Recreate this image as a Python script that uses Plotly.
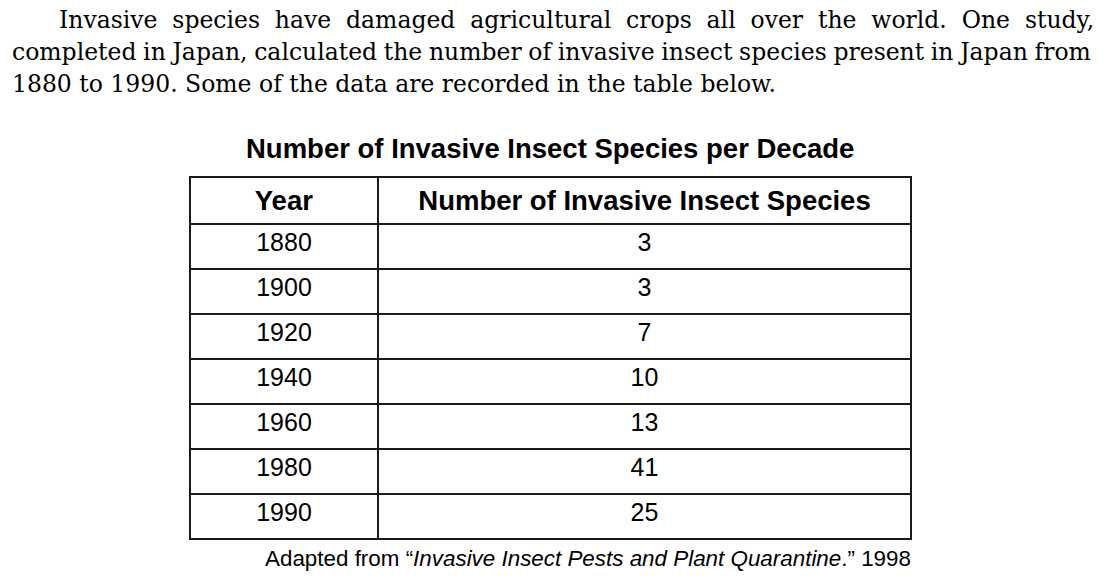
import plotly.graph_objects as go

years = ["1880", "1900", "1920", "1940", "1960", "1980", "1990"]
species = [3, 3, 7, 10, 13, 41, 25]
col_headers = ["Year", "Number of Invasive Insect Species"]
title = "Number of Invasive Insect Species per Decade"
para_lines = [
    "Invasive species have damaged agricultural crops all over the world. One study,",
    "completed in Japan, calculated the number of invasive insect species present in Japan from",
    "1880 to 1990. Some of the data are recorded in the table below.",
]
caption = "Adapted from \u201c<i>Invasive Insect Pests and Plant Quarantine</i>.\u201d 1998"

W, H = 1110, 584
line_col = "#1a1a1a"

fig = go.Figure()
fig.add_trace(go.Table(
    domain=dict(x=[190 / W, 911 / W], y=[0, 1 - 177 / H]),
    columnwidth=[188, 533],
    header=dict(
        values=["<b>%s</b>" % h for h in col_headers],
        height=45,
        align="center",
        fill_color="white",
        line=dict(color=line_col, width=2),
        font=dict(family="Liberation Sans", size=27.5, color="black"),
    ),
    cells=dict(
        values=[years, [str(v) for v in species]],
        height=45,
        align="center",
        fill_color="white",
        line=dict(color=line_col, width=2),
        font=dict(family="Liberation Sans", size=25, color="black"),
    ),
))

para_x = [57, 10, 10]
para_y = [20, 52, 84]
para_ws = [7.4, -0.8, 0]
for x, y, ws, t in zip(para_x, para_y, para_ws, para_lines):
    txt = '<span style="word-spacing:%.1fpx">%s</span>' % (ws, t) if ws else t
    fig.add_annotation(x=x / W, y=1 - y / H, xref="paper", yref="paper",
                       text=txt, showarrow=False, xanchor="left", yanchor="middle",
                       font=dict(family="DejaVu Serif", size=23.5, color="black"))

fig.add_annotation(x=550 / W, y=1 - 148 / H, xref="paper", yref="paper",
                   text="<b>%s</b>" % title, showarrow=False, xanchor="center", yanchor="middle",
                   font=dict(family="Liberation Sans", size=27.5, color="black"))
fig.add_annotation(x=913 / W, y=1 - 558 / H, xref="paper", yref="paper",
                   text=caption, showarrow=False, xanchor="right", yanchor="middle",
                   font=dict(family="Liberation Sans", size=22.4, color="black"))

fig.update_layout(width=W, height=H, margin=dict(l=0, r=0, t=0, b=0),
                  paper_bgcolor="white", plot_bgcolor="white")
fig.write_html("out.html", config={"displayModeBar": False},
               post_script="document.body.style.margin='0px';")
